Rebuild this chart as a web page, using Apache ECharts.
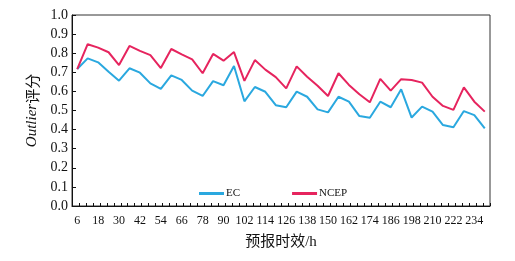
<!DOCTYPE html>
<html>
<head>
<meta charset="utf-8">
<script src="https://cdn.jsdelivr.net/npm/echarts@6/dist/echarts.min.js"></script>
<style>html,body{margin:0;padding:0;background:#fff}#c{width:515px;height:261px}</style>
</head>
<body>
<div id="c"></div>
<script>
const categories = ['6','12','18','24','30','36','42','48','54','60','66','72','78','84','90','96','102','108','114','120','126','132','138','144','150','156','162','168','174','180','186','192','198','204','210','216','222','228','234','240'];
const ecValues = [0.717,0.773,0.752,0.703,0.656,0.721,0.698,0.642,0.613,0.684,0.660,0.604,0.576,0.654,0.632,0.733,0.548,0.623,0.598,0.528,0.517,0.599,0.572,0.506,0.490,0.572,0.546,0.471,0.462,0.546,0.517,0.611,0.463,0.520,0.494,0.424,0.412,0.497,0.476,0.406];
const ncepValues = [0.717,0.847,0.829,0.805,0.738,0.838,0.812,0.790,0.722,0.822,0.794,0.768,0.695,0.796,0.761,0.806,0.655,0.764,0.714,0.675,0.616,0.731,0.677,0.630,0.576,0.695,0.634,0.585,0.543,0.666,0.604,0.664,0.660,0.646,0.572,0.524,0.503,0.621,0.546,0.494];
const seriesNames = ['EC','NCEP'];
const serif = 'Liberation Serif, Noto Sans CJK SC, serif';

const chart = echarts.init(document.getElementById('c'), null, {renderer:'canvas'});
chart.setOption({
  animation:false,
  backgroundColor:'#fff',
  grid:{left:72,right:25,top:15,bottom:55,show:true,borderColor:'#333',borderWidth:1,containLabel:false},
  legend:{
    data:seriesNames, left:194, top:183, icon:'rect', itemWidth:25, itemHeight:3, itemGap:52,
    textStyle:{fontFamily:serif,fontSize:11,color:'#111',padding:[0,0,0,-3]}
  },
  xAxis:[{
    type:'category', data:categories, boundaryGap:true,
    name:'预报时效/h', nameLocation:'middle', nameGap:29,
    nameTextStyle:{fontFamily:serif,fontSize:15,color:'#111'},
    axisLine:{lineStyle:{color:'#111',width:1}},
    axisTick:{show:false},
    axisLabel:{interval:1,fontFamily:serif,fontSize:12,color:'#111',margin:9},
    splitLine:{show:false}
  },{
    type:'value', min:0, max:60, interval:1, position:'bottom',
    axisLine:{show:false}, axisLabel:{show:false}, splitLine:{show:false},
    axisTick:{show:true,inside:true,length:3,lineStyle:{color:'#111'}}
  }],
  yAxis:{
    type:'value', min:0, max:1, interval:0.1,
    name:'{i|Outlier}{c|评分}', nameLocation:'middle', nameGap:24, nameRotate:90,
    nameTextStyle:{rich:{
      i:{fontFamily:'Liberation Serif',fontStyle:'italic',fontSize:15,color:'#111'},
      c:{fontFamily:'Noto Sans CJK SC',fontSize:15,color:'#111'}
    }},
    axisLine:{show:true,lineStyle:{color:'#111',width:1}},
    axisTick:{show:true,inside:true,length:4,lineStyle:{color:'#111'}},
    axisLabel:{fontFamily:serif,fontSize:14,color:'#111',margin:4,formatter:v=>v.toFixed(1)},
    splitLine:{show:false}
  },
  series:[
    {name:seriesNames[0],type:'line',data:ecValues,showSymbol:false,symbol:'none',lineStyle:{color:'#2aa8df',width:2},itemStyle:{color:'#2aa8df'}},
    {name:seriesNames[1],type:'line',data:ncepValues,showSymbol:false,symbol:'none',lineStyle:{color:'#e6245e',width:2},itemStyle:{color:'#e6245e'}}
  ]
});
</script>
</body>
</html>
